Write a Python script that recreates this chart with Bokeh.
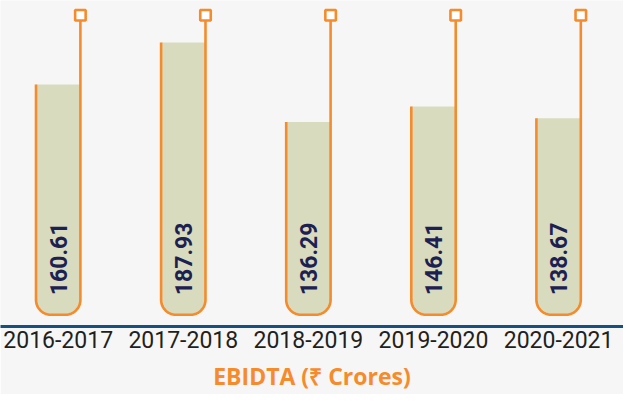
import math
from bokeh.plotting import figure
from bokeh.models import FixedTicker, ColumnDataSource
from bokeh.core.properties import value
from bokeh.embed import file_html
from bokeh.resources import INLINE

# ---- data ----
periods = ["2016-2017", "2017-2018", "2018-2019", "2019-2020", "2020-2021"]
ebitda = [160.61, 187.93, 136.29, 146.41, 138.67]
title_text = "EBIDTA (\u20b9 Crores)"

# ---- style constants ----
ORANGE = "#f68b2c"
FILL = "#d8dbbd"
NAVY = "#1c2152"
BASE = "#17507f"
BG = "#f6f6f6"

W, H = 623, 394
FRAME_H = 328
X_RANGE = (-0.4612, 4.5188)
Y_RANGE = (3.3, 215.3)
PXX = W / (X_RANGE[1] - X_RANGE[0])
PXY = FRAME_H / (Y_RANGE[1] - Y_RANGE[0])

TUBE_HALF_PX = 22.2
CORNER_PX = 15
TUBE_BOTTOM = 10.9      # value level of tube bottom
TUBE_TOP = 205.7        # value level of the top square
LABEL_LEVEL = 47.3      # value level of rotated label centre

p = figure(width=W, height=H, x_range=X_RANGE, y_range=Y_RANGE,
           output_backend="svg", toolbar_location=None,
           min_border_left=0, min_border_right=0, min_border_top=0,
           min_border_bottom=H - FRAME_H, y_axis_location=None,
           background_fill_color=BG, border_fill_color=BG)
p.outline_line_color = None
p.xgrid.grid_line_color = None
p.ygrid.grid_line_color = None

hw = TUBE_HALF_PX / PXX
rx = CORNER_PX / PXX
ry = CORNER_PX / PXY

fill_xs, fill_ys, out_xs, out_ys = [], [], [], []
for i, v in enumerate(ebitda):
    xl, xr = i - hw, i + hw
    y0 = TUBE_BOTTOM
    xs, ys = [xl], [v]
    xs.append(xl); ys.append(y0 + ry)
    for k in range(1, 13):
        a = math.pi + k * (math.pi / 2) / 12
        xs.append(xl + rx + rx * math.cos(a)); ys.append(y0 + ry + ry * math.sin(a))
    for k in range(0, 13):
        a = 1.5 * math.pi + k * (math.pi / 2) / 12
        xs.append(xr - rx + rx * math.cos(a)); ys.append(y0 + ry + ry * math.sin(a))
    fill_xs.append(xs + [xr]); fill_ys.append(ys + [v])
    out_xs.append(xs + [xr]); out_ys.append(ys + [TUBE_TOP])

p.patches(fill_xs, fill_ys, fill_color=FILL, line_color=None)
p.multi_line(out_xs, out_ys, line_color=ORANGE, line_width=2.6,
             line_join="round", line_cap="butt")

xs_idx = list(range(len(periods)))
p.scatter([i + hw for i in xs_idx], [TUBE_TOP] * len(periods), marker="square",
          size=10.5, fill_color="white", line_color=ORANGE, line_width=2.6)

src = ColumnDataSource(dict(x=xs_idx, y=[LABEL_LEVEL] * len(ebitda),
                            t=[f"{v:.2f}" for v in ebitda]))
p.text(x="x", y="y", text="t", source=src, angle=math.pi / 2,
       text_align="center", text_baseline="middle", text_color=NAVY,
       text_font=value("Roboto"), text_font_size="23px", text_font_style="bold")

ax = p.xaxis[0]
ax.ticker = FixedTicker(ticks=xs_idx)
ax.major_label_overrides = {i: s for i, s in enumerate(periods)}
ax.major_tick_line_color = None
ax.minor_tick_line_color = None
ax.axis_line_color = BASE
ax.axis_line_width = 3
ax.major_label_text_font = "Roboto"
ax.major_label_text_font_size = "23px"
ax.major_label_text_color = "#231f20"
ax.major_label_standoff = -2
ax.axis_label = title_text
ax.axis_label_text_font = "Open Sans"
ax.axis_label_text_font_size = "23px"
ax.axis_label_text_font_style = "bold"
ax.axis_label_text_color = ORANGE
ax.axis_label_standoff = 9

open("out.html", "w").write(file_html(p, INLINE))
